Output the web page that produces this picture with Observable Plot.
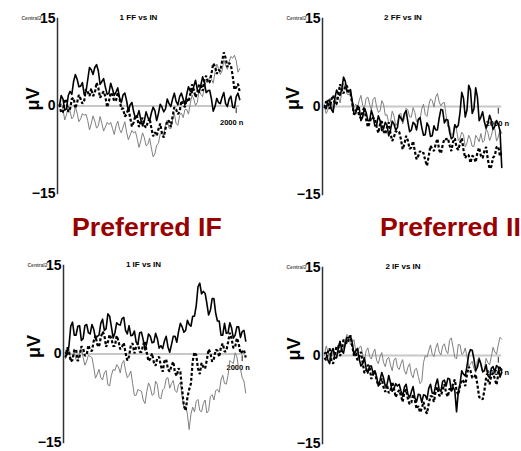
<!DOCTYPE html>
<html><head><meta charset="utf-8">
<script src="https://cdn.jsdelivr.net/npm/d3@7"></script>
<script src="https://cdn.jsdelivr.net/npm/@observablehq/plot@0.6"></script>
<style>
body{margin:0;background:#fff;}
#wrap{position:relative;width:521px;height:451px;overflow:hidden;background:#fff;font-family:"Liberation Sans",Arial,sans-serif;}
.pref{position:absolute;font-size:26.7px;font-weight:bold;color:#990000;line-height:26px;white-space:nowrap;}
</style></head><body><div id="wrap"></div>
<script>
// sampling times (ms)
const times = d3.range(0, 2041, 20);
const yTicks = [-15, 0, 15];
const panelTitles = ["1 FF vs IN", "2 FF vs IN", "1 IF vs IN", "2 IF vs IN"];
const headings = ["Preferred IF", "Preferred II"];
const channelLabel = "Central2";
const unitLabel = "μV";
const endLabel = "2000 n";
const endTick = 2000;

// Panel 1: 1 FF vs IN
const p1Solid = [0, 1.8, 1.2, -0.7, -0.5, 1.8, 2.5, 2.0, 4.2, 5.4,
  4.6, 3.3, 3.4, 4.0, 2.0, 2.4, 4.5, 6.6, 6.2, 5.4,
  6.6, 7.1, 6.0, 3.7, 4.2, 4.7, 3.2, 2.0, 2.2, 3.9,
  2.9, 1.8, 2.4, 3.1, 1.4, 0.6, 1.9, 2.2, 0.9, -0.9,
  0.2, 0.6, -1.0, -2.1, -1.8, -0.8, -2.3, -3.4, -2.6, -1.0,
  -1.9, -2.6, -1.2, -0.2, -0.8, -2.5, -1.3, 0.3, -0.2, -1.0,
  -0.5, 1.2, 0.4, -0.1, 1.2, 2.2, 0.8, 0.2, 1.6, 2.2,
  1.2, 0.2, 2.0, 3.3, 2.6, 2.3, 3.4, 4.4, 2.8, 2.3,
  3.6, 5.0, 4.0, 2.3, 2.6, 2.7, 1.2, -0.9, -0.1, 1.3,
  0.6, 0.4, 1.5, 2.3, 0.4, -0.1, 1.2, 1.7, -0.2, -0.3,
  1.6, 2.2, 1.1];
const p1Dashed = [0.3, -1.2, -1.0, 1.2, 0.8, -1.0, -0.5, 1.2, 1.4, -0.4,
  0.6, 1.9, 1.2, 0.4, 0.9, 2.9, 2.4, 1.7, 3.0, 1.7,
  2.2, 4.0, 3.1, 1.4, 2.0, 2.5, 1.6, -0.2, 0.8, 2.3,
  1.9, 0.8, 1.0, 2.3, 1.3, -0.5, -0.4, -1.8, -1.4, -0.4,
  -2.0, -3.5, -2.8, -1.6, -1.9, -3.6, -2.6, -2.0, -3.4, -3.7,
  -2.8, -2.1, -3.8, -5.2, -4.5, -5.1, -4.0, -3.0, -4.7, -5.4,
  -3.9, -2.5, -2.6, -3.6, -1.8, -0.2, -0.6, -1.4, -1.0, 0.9,
  0.3, -0.2, 1.2, 0.7, 2.0, 3.7, 2.8, 1.5, 2.4, 3.7,
  3.6, 2.6, 4.5, 5.2, 4.0, 4.1, 5.5, 7.3, 6.8, 5.5,
  6.2, 6.0, 7.6, 9.2, 8.2, 6.7, 7.4, 7.0, 5.2, 2.8,
  3.2, 3.8, 2.4];
const p1Gray = [0, 0.4, -0.6, -2.4, -1.5, -0.1, -0.9, -2.2, -1.8, -0.1,
  -1.2, -2.7, -2.2, -1.3, -1.6, -1.4, -2.5, -4.1, -3.0, -1.7,
  -2.6, -3.8, -3.4, -1.8, -3.0, -4.3, -3.6, -2.8, -3.2, -2.8,
  -3.8, -4.9, -3.4, -2.6, -4.0, -4.6, -3.6, -2.7, -4.5, -5.8,
  -5.0, -4.2, -4.6, -4.4, -5.6, -7.1, -6.0, -4.6, -5.4, -6.8,
  -6.6, -5.5, -7.2, -8.7, -8.2, -6.7, -6.4, -4.8, -4.6, -5.2,
  -3.2, -2.4, -3.8, -3.9, -2.4, -1.3, -3.0, -3.3, -1.6, -1.2,
  -2.0, -0.6, -0.6, -1.4, 0.4, 1.9, 1.2, 0.1, 0.6, 2.7,
  2.0, 1.6, 3.2, 4.2, 4.0, 5.0, 4.6, 3.9, 5.8, 7.2,
  6.4, 5.4, 6.0, 7.9, 7.0, 6.3, 7.6, 8.5, 8.2, 8.7,
  7.8, 5.8, 6.4];

// Panel 2: 2 FF vs IN
const p2Solid = [0.2, -0.4, 1.0, 1.1, -0.5, -1.0, 1.4, 2.8, 2.2, 1.9,
  3.0, 5.0, 4.3, 2.6, 2.6, 2.9, 0.8, -1.2, -1.2, 0.1,
  -0.2, -2.4, -1.8, -0.4, -1.0, -2.4, -2.4, -0.7, -1.6, -3.3,
  -3.2, -1.6, -2.4, -4.1, -3.8, -2.7, -3.2, -5.0, -4.0, -2.5,
  -3.0, -4.0, -3.6, -1.5, -2.0, -2.5, -1.2, -0.7, -2.6, -4.3,
  -4.0, -2.7, -3.0, -4.0, -2.2, -1.9, -3.6, -4.9, -4.8, -2.8,
  -3.4, -5.1, -5.0, -3.3, -4.0, -4.0, -2.0, -0.5, -0.6, -2.8,
  -2.2, -2.3, -4.4, -5.5, -5.2, -3.1, -3.6, -3.2, -1.0, 2.4,
  1.4, -1.8, -0.6, 3.6, 2.8, -1.2, -0.4, 3.2, 1.6, -2.4,
  -1.8, -0.9, -2.6, -3.7, -2.9, -1.5, -2.4, -3.9, -3.4, -2.4,
  -3.0, -4.2, -10.4];
const p2Dashed = [-0.3, 0.9, 0.6, -0.4, 1.2, 1.9, 0.4, 0.4, 2.0, 3.8,
  2.8, 2.2, 3.6, 3.5, 2.2, 2.1, 0.6, -1.4, -0.8, -0.1,
  -1.6, -2.0, -0.8, -0.1, -2.2, -3.5, -2.8, -1.8, -2.0, -2.0,
  -3.4, -4.5, -3.0, -2.5, -4.2, -4.7, -3.6, -2.7, -4.6, -5.9,
  -5.2, -4.2, -4.4, -4.3, -5.6, -7.3, -6.4, -5.0, -5.8, -7.2,
  -7.0, -5.9, -7.6, -9.0, -8.4, -7.6, -8.0, -7.9, -9.2, -10.1,
  -8.4, -6.7, -7.2, -7.6, -6.4, -5.5, -7.4, -8.0, -6.6, -5.5,
  -5.6, -5.4, -6.6, -7.6, -6.0, -5.4, -7.0, -7.4, -6.2, -5.4,
  -7.4, -8.8, -8.2, -8.3, -9.6, -8.4, -8.6, -9.5, -7.8, -7.0,
  -8.4, -8.8, -7.6, -6.9, -9.0, -10.6, -10.2, -8.7, -8.4, -6.9,
  -6.8, -8.5, -7.6];
const p2Gray = [0, -1.2, -0.6, 1.4, 0.8, -0.6, 0.2, 1.6, 1.6, 0.6,
  2.4, 3.9, 3.4, 2.1, 2.0, 2.8, 1.2, -0.2, 0.4, -0.2,
  1.0, 1.9, 0.2, -0.3, 1.4, 1.6, 0.4, -0.6, 1.2, 1.6,
  0.0, -1.0, -0.8, 1.0, 0.4, -1.5, -1.4, -2.9, -2.6, -0.8,
  -1.6, -3.3, -2.8, -1.3, -1.2, -3.0, -2.0, -0.3, -0.6, -1.8,
  -1.8, -0.2, -1.0, -2.6, -2.2, -2.2, -0.4, 0.4, -1.4, -1.7,
  0.2, 1.3, 1.0, -0.1, 1.6, 2.2, 0.8, 0.1, 0.6, 0.7,
  -1.6, -3.5, -3.4, -4.9, -4.6, -3.0, -4.0, -5.8, -5.4, -4.4,
  -4.8, -6.9, -6.2, -4.9, -5.6, -6.8, -6.8, -4.9, -5.4, -6.0,
  -4.6, -6.1, -5.8, -3.8, -4.4, -5.8, -5.0, -3.7, -3.8, -5.9,
  -5.2, -3.9, -4.6];

// Panel 3: 1 IF vs IN
const p3Solid = [0.2, -0.1, 1.4, 4.7, 5.4, 3.2, 3.2, 4.7, 4.8, 2.3,
  2.6, 4.8, 5.0, 3.6, 3.4, 5.0, 4.2, 2.6, 3.0, 3.2,
  5.2, 5.9, 4.0, 4.3, 6.8, 6.4, 4.6, 2.7, 3.6, 5.3,
  5.0, 4.9, 6.0, 6.2, 4.0, 3.4, 4.8, 3.1, 3.2, 3.9,
  2.0, 1.7, 3.6, 3.7, 2.4, 0.7, 1.8, 3.4, 3.0, 1.9,
  2.0, 3.5, 2.6, 1.0, 1.4, 0.9, 2.2, 3.0, 1.2, 0.3,
  1.6, 3.0, 3.0, 2.0, 3.8, 5.2, 4.6, 3.7, 4.0, 5.7,
  5.0, 4.7, 6.4, 6.4, 8.2, 11.4, 12.0, 10.2, 10.6, 10.3,
  8.6, 6.6, 7.4, 9.4, 9.4, 6.9, 5.6, 5.6, 3.2, 3.2,
  5.2, 3.5, 3.6, 5.3, 4.4, 2.7, 3.2, 4.6, 4.6, 2.8,
  3.8, 4.0, 2.2];
const p3Dashed = [-0.6, 1.1, 0.4, -1.3, -1.0, 0.7, 0.8, -1.2, -0.4, 1.3,
  1.0, -0.3, -0.2, 1.5, 0.6, 0.5, 2.2, 3.1, 1.6, 1.2,
  2.8, 3.8, 3.2, 1.2, 2.0, 3.3, 2.6, 1.3, 1.4, 3.1,
  2.2, 0.8, 1.2, 1.9, 0.2, -1.1, -0.4, 1.5, 1.8, 0.1,
  1.2, 1.8, 0.4, 0.3, 1.6, 2.2, 0.2, -1.2, -0.8, 0.1,
  -1.4, -2.0, -0.6, -0.5, -2.0, -3.0, -1.2, -0.9, -2.6, -3.0,
  -2.0, -1.3, -3.2, -3.7, -2.4, -3.0, -6.0, -8.8, -9.6, -7.4,
  -6.0, -5.0, -1.2, 0.3, -0.2, -2.5, -3.4, -1.5, -2.2, -2.5,
  -1.0, 0.8, 0.2, -1.3, -0.8, 0.7, 0.6, -0.5, 1.2, 1.8,
  0.4, 0.5, 2.0, 3.6, 2.6, 1.0, 1.2, 2.7, 1.8, 0.1,
  0.4, 0.7, -0.6];
const p3Gray = [-0.8, 0.7, 0.8, -1.1, -0.4, 0.4, -1.0, -1.2, 0.2, 1.2,
  -0.6, -1.9, -1.2, -0.2, -0.4, -0.6, -2.2, -4.1, -3.4, -2.6,
  -4.0, -4.4, -3.2, -2.8, -5.2, -5.4, -3.6, -2.6, -2.8, -1.8,
  -2.2, -3.2, -1.6, -1.1, -2.8, -4.0, -3.6, -2.9, -5.0, -7.0,
  -7.0, -6.0, -6.2, -6.3, -7.8, -8.4, -6.4, -4.9, -5.6, -7.0,
  -6.8, -4.6, -5.2, -7.4, -7.6, -6.1, -5.8, -4.2, -4.0, -5.8,
  -5.0, -4.5, -6.2, -6.5, -5.2, -4.8, -7.2, -9.0, -8.8, -10.2,
  -12.8, -10.2, -9.0, -9.8, -8.0, -7.7, -9.6, -9.8, -8.4, -7.8,
  -10.0, -9.6, -7.2, -6.9, -7.8, -6.2, -6.0, -6.5, -4.4, -3.6,
  -5.0, -5.1, -3.6, -1.1, -1.4, -1.6, 0.2, -0.5, -2.4, -2.5,
  -4.0, -4.6, -6.6];

// Panel 4: 2 IF vs IN
const p4Solid = [0.4, 0.5, -0.8, -1.4, 0.6, 1.2, -0.4, -0.4, 1.2, 2.4,
  0.8, 0.4, 2.0, 3.1, 3.0, 3.3, 2.2, 0.2, 0.8, 1.2,
  -0.6, -1.8, -1.4, -0.4, -2.2, -3.0, -1.8, -1.8, -3.0, -2.6,
  -3.6, -5.2, -4.2, -2.9, -3.8, -5.2, -5.0, -3.4, -4.6, -6.1,
  -5.6, -4.8, -5.2, -4.9, -6.0, -7.0, -5.4, -4.9, -6.6, -7.2,
  -6.2, -5.3, -7.2, -7.9, -6.6, -6.7, -8.0, -6.7, -6.8, -7.5,
  -5.6, -4.9, -6.4, -6.5, -5.0, -4.0, -5.8, -6.1, -4.4, -4.2,
  -5.2, -3.9, -4.0, -6.0, -5.4, -6.0, -9.6, -6.2, -4.8, -2.6,
  -3.2, -3.5, -1.8, 0.2, 1.0, 0.9, -0.6, -2.6, -2.0, -0.6,
  -1.4, -2.8, -2.6, -1.6, -3.4, -3.8, -2.2, -1.9, -2.8, -1.7,
  -2.0, -3.7, -2.8];
const p4Dashed = [-0.4, -0.8, 0.6, 1.2, -0.8, -1.4, 0.2, 1.6, 1.6, -0.1,
  1.0, 2.7, 2.4, 2.0, 2.8, 3.4, 1.6, 0.0, 0.4, -0.8,
  -0.2, 0.6, -1.2, -3.0, -2.6, -1.6, -2.0, -4.0, -3.2, -2.7,
  -4.2, -5.1, -4.8, -3.9, -5.4, -6.2, -5.0, -6.4, -6.0, -4.5,
  -5.6, -7.1, -6.4, -5.9, -6.8, -7.9, -6.2, -5.8, -7.4, -8.3,
  -8.0, -6.6, -7.6, -9.1, -8.6, -9.7, -9.0, -7.9, -9.4, -9.9,
  -8.2, -6.9, -7.0, -7.9, -6.0, -5.4, -6.8, -6.9, -5.8, -4.9,
  -6.4, -7.0, -5.6, -6.1, -4.8, -4.1, -6.0, -6.7, -5.2, -4.1,
  -4.4, -5.2, -3.2, -1.9, -2.6, -3.8, -3.8, -3.2, -5.0, -7.1,
  -7.2, -7.5, -6.0, -3.8, -4.2, -4.9, -3.4, -3.0, -4.0, -5.0,
  -3.2, -1.9, -2.6];
const p4Gray = [0, 1.6, 0.8, -0.8, -0.4, 0.9, 0.6, -0.2, 1.8, 2.5,
  1.2, 1.2, 2.6, 3.6, 3.2, 1.8, 2.2, 2.7, 0.8, 0.1,
  1.4, 1.6, 0.2, -0.9, 0.8, 1.3, -0.2, -0.6, 0.4, 1.1,
  -0.8, -1.4, -0.2, 0.5, -1.2, -1.9, -0.6, -0.3, -1.6, -2.6,
  -0.8, -0.4, -2.0, -2.4, -1.4, -0.7, -2.6, -3.2, -2.0, -1.4,
  -3.2, -3.8, -2.4, -2.2, -3.6, -4.8, -4.4, -1.2, 0.0, -0.3,
  0.8, 1.8, 0.2, -0.2, 1.2, 2.1, 0.6, 0.1, 1.6, 2.0,
  0.8, 0.3, 2.6, 3.0, 1.4, -0.3, -0.6, 1.9, 1.8, 0.2,
  0.4, 1.3, -0.2, -1.8, -1.4, -1.0, -2.2, -2.9, -0.8, -0.3,
  -1.8, -2.8, -2.4, -0.5, -1.2, -1.6, -0.2, 1.4, 0.6, 0.2,
  1.8, 3.1, 2.8];

const panels = [
  {title: panelTitles[0], solid: p1Solid, dashed: p1Dashed, gray: p1Gray},
  {title: panelTitles[1], solid: p2Solid, dashed: p2Dashed, gray: p2Gray},
  {title: panelTitles[2], solid: p3Solid, dashed: p3Dashed, gray: p3Gray},
  {title: panelTitles[3], solid: p4Solid, dashed: p4Dashed, gray: p4Gray}
];

// layout of each panel (pixels)
const layouts = [
  {left: 0,   top: 0,   w: 260, h: 200, ml: 57, mr: 19, mt: 18, mb: 7, tx: -11, ux: -24, uy: 4.5, ex: -4.5, ey: 17},
  {left: 260, top: 0,   w: 261, h: 200, ml: 62, mr: 18, mt: 18, mb: 6, tx: -10, ux: -29, uy: 3.5, ex: -1, ey: 17},
  {left: 0,   top: 240, w: 260, h: 211, ml: 63, mr: 13, mt: 25, mb: 9, tx: -12, ux: -29, uy: 4, ex: -4, ey: 14},
  {left: 260, top: 240, w: 261, h: 211, ml: 62, mr: 18, mt: 27, mb: 8, tx: -10, ux: -28.5, uy: 5, ex: -1, ey: 17}
];

const font = "Liberation Sans, Arial, Helvetica, sans-serif";

function makePanel(p, L) {
  const mk = vals => vals.map((v, i) => ({t: times[i], v}));
  return Plot.plot({
    width: L.w, height: L.h,
    marginLeft: L.ml, marginRight: L.mr, marginTop: L.mt, marginBottom: L.mb,
    x: {domain: [-22, 2060], axis: null},
    y: {domain: [-15, 15], axis: null},
    style: {fontFamily: font, background: "transparent", overflow: "visible"},
    marks: [
      Plot.ruleY([0], {x1: times[0], x2: times[times.length - 1], stroke: "#c8c8c8", strokeWidth: 2}),
      Plot.ruleX([endTick], {y1: -0.3, y2: -1.3, stroke: "#222", strokeWidth: 1}),
      Plot.text([endLabel], {x: endTick, y: 0, dx: L.ex, dy: L.ey, fontSize: 7.5, fontWeight: "bold", fill: "#000"}),
      Plot.lineY(mk(p.gray), {x: "t", y: "v", stroke: "#808080", strokeWidth: 1}),
      Plot.lineY(mk(p.dashed), {x: "t", y: "v", stroke: "#000", strokeWidth: 2.2, strokeDasharray: "3,2", strokeLinecap: "butt", strokeLinejoin: "miter"}),
      Plot.lineY(mk(p.solid), {x: "t", y: "v", stroke: "#000", strokeWidth: 1.6}),
      Plot.frame({anchor: "left", stroke: "#333", strokeWidth: 1.5}),
      Plot.axisY({ticks: yTicks, tickSize: 0, tickPadding: 2, fontSize: 14, fontWeight: "bold", label: null,
        tickFormat: d => d < 0 ? "\u2212" + Math.abs(d) : String(d)}),
      Plot.text([p.title], {frameAnchor: "top", dx: L.tx, dy: -1, lineAnchor: "middle", fontSize: 8, fontWeight: "bold"}),
      Plot.text([channelLabel], {frameAnchor: "top-left", dx: -16, lineAnchor: "middle", textAnchor: "end", fontSize: 5, fontWeight: "bold", fill: "#555"}),
      Plot.text([unitLabel], {frameAnchor: "left", dx: L.ux, dy: L.uy, rotate: -90, lineAnchor: "middle", fontSize: 18, fontWeight: "bold"})
    ]
  });
}

const wrap = document.getElementById("wrap");
panels.forEach((p, i) => {
  const L = layouts[i];
  const svg = makePanel(p, L);
  svg.style.position = "absolute";
  svg.style.left = L.left + "px";
  svg.style.top = L.top + "px";
  svg.style.maxWidth = "none";
  wrap.appendChild(svg);
});

const headingPos = [{left: 72, top: 214}, {left: 380, top: 214}];
headings.forEach((h, i) => {
  const d = document.createElement("div");
  d.className = "pref";
  d.textContent = h;
  d.style.left = headingPos[i].left + "px";
  d.style.top = headingPos[i].top + "px";
  wrap.appendChild(d);
});
</script></body></html>
